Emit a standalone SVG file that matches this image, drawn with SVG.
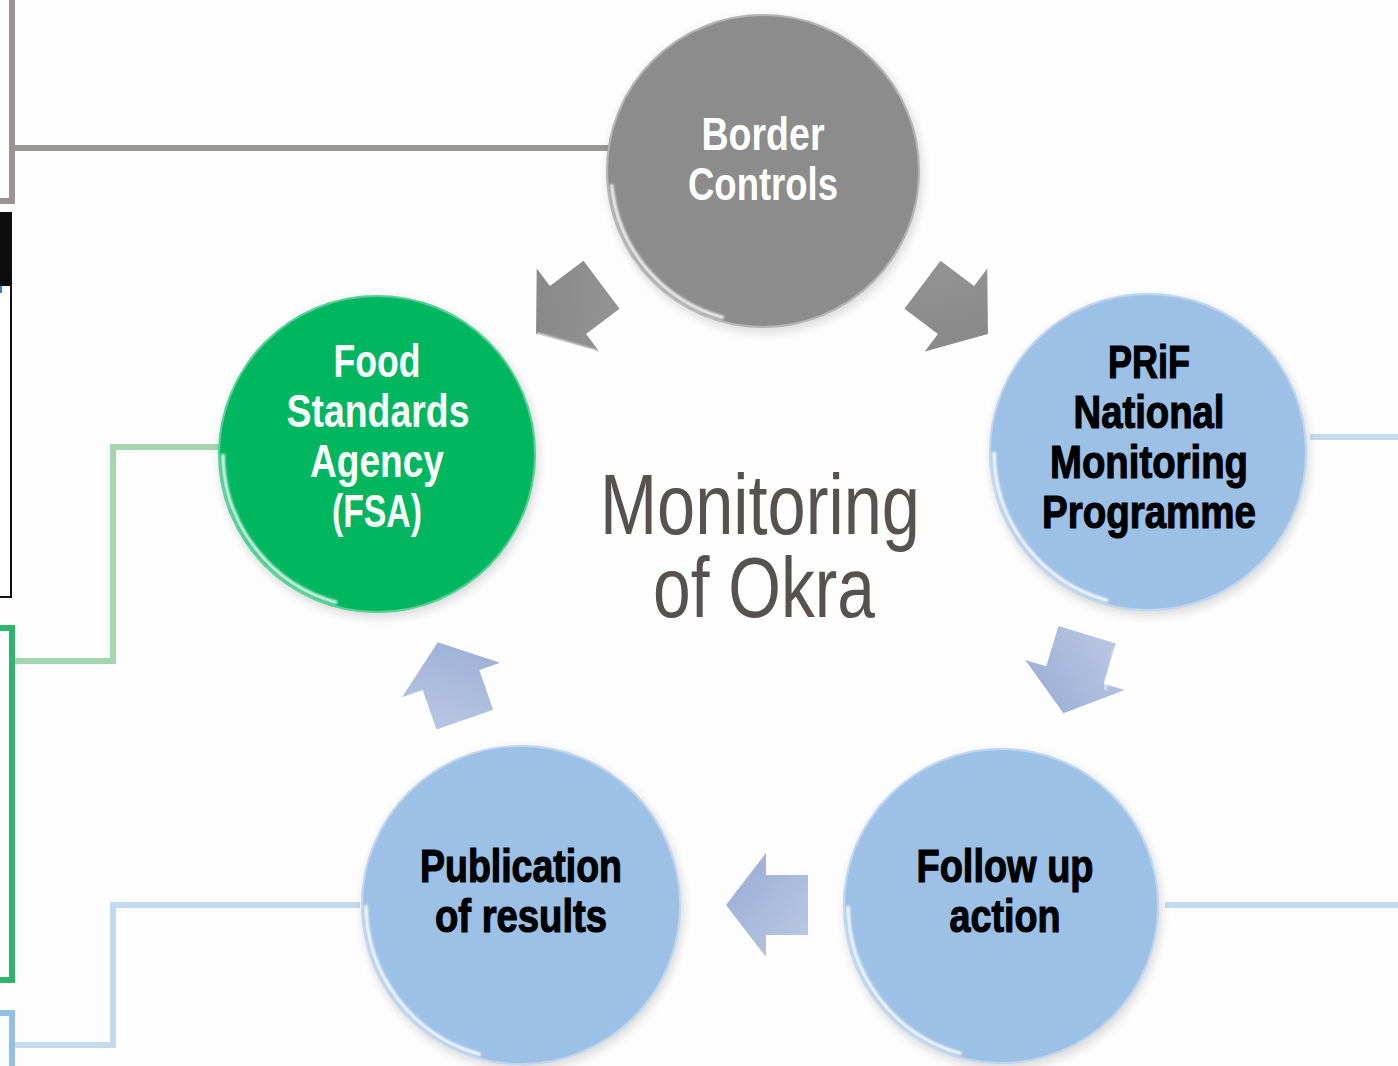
<svg xmlns="http://www.w3.org/2000/svg" width="1398" height="1066" viewBox="0 0 1398 1066">
<defs>
<filter id="sh" x="-20%" y="-20%" width="140%" height="140%"><feGaussianBlur stdDeviation="5"/></filter>
<filter id="soft" x="-10%" y="-10%" width="120%" height="120%"><feGaussianBlur stdDeviation="1.2"/></filter>
<linearGradient id="blueArrow" x1="0" y1="0" x2="1" y2="1"><stop offset="0" stop-color="#bccae4"/><stop offset="1" stop-color="#97abd2"/></linearGradient>
<linearGradient id="grayArrow" x1="0" y1="0" x2="1" y2="1"><stop offset="0" stop-color="#959595"/><stop offset="1" stop-color="#858585"/></linearGradient>
<path id="arr" d="M-42,-30 L0,-30 L0,-52 L40,0 L0,52 L0,30 L-42,30 Z"/>
</defs>
<style>
.ln{fill:none;stroke-width:6;stroke-linejoin:miter;stroke-linecap:butt}
.t{font-family:"Liberation Sans",Arial,sans-serif;font-weight:bold;font-size:47px;text-anchor:middle}
.w{fill:#ffffff}
.k{fill:#000000;stroke:#000000;stroke-width:1.2}
.big{font-family:"Liberation Sans",Arial,sans-serif;font-size:85px;fill:#575250;text-anchor:middle}
.shadow{fill:#000;opacity:0.13}
.hl{fill:none;stroke:#ffffff;stroke-width:3.5;opacity:0.9}
.rim{fill:none;stroke:#ffffff;stroke-width:2;opacity:0.35}
</style>
<rect width="1398" height="1066" fill="#fdfdfd"/>

<g id="connectors">
<path class="ln" stroke="#9c9492" d="M0,201 H12 V0"/>
<path class="ln" stroke="#9c9492" d="M12,148 H610"/>
<rect x="-10" y="213" width="21" height="384" fill="#ffffff" stroke="#111111" stroke-width="2"/>
<rect x="-10" y="213" width="21" height="73" fill="#0d0d0d"/>
<rect x="0" y="286" width="2" height="7" fill="#3a7fd0"/>
<path class="ln" stroke="#a4d6af" d="M222,447 H113 V661 H13"/>
<path class="ln" stroke="#2fb66c" d="M0,628 H12 V980 H0"/>
<path class="ln" stroke="#c5d9ee" d="M360,905 H113 V1045 H13"/>
<path class="ln" stroke="#93bee6" d="M0,1013 H12 V1066"/>
<path class="ln" stroke="#c5d9ee" stroke-width="7" d="M1310,437 H1398"/>
<path class="ln" stroke="#c5d9ee" stroke-width="7" d="M1165,905 H1398"/>
<g id="arrows">
<use href="#arr" fill="url(#grayArrow)" transform="translate(568,310) rotate(143)"/>
<path d="M537,334 L598,352" stroke="#ffffff" stroke-width="3" opacity="0.8" filter="url(#soft)"/>
<use href="#arr" fill="url(#grayArrow)" transform="translate(956,310) rotate(37)"/>
<use href="#arr" fill="url(#blueArrow)" transform="translate(1075,675) rotate(106.8)"/>
<path d="M1115,648 L1105,690" stroke="#ffffff" stroke-width="2.5" opacity="0.7" filter="url(#soft)"/>
<use href="#arr" fill="url(#blueArrow)" transform="translate(766,905) rotate(180)"/>
<use href="#arr" fill="url(#blueArrow)" transform="translate(451,680) rotate(-109.3)"/>
</g>
</g>

<g id="node-border">
<circle class="shadow" cx="765" cy="175" r="158" filter="url(#sh)"/>
<circle cx="763" cy="171" r="157" fill="#8c8c8c"/>
<circle class="rim" cx="763" cy="171" r="156"/>
<circle class="hl" cx="763" cy="171" r="152" pathLength="360" stroke-dasharray="70 290" transform="rotate(105 763 171)" filter="url(#soft)"/>
<text class="t w" x="763" y="150" textLength="123" lengthAdjust="spacingAndGlyphs">Border</text>
<text class="t w" x="763" y="200" textLength="150" lengthAdjust="spacingAndGlyphs">Controls</text>
</g>

<g id="node-fsa">
<circle class="shadow" cx="379" cy="458" r="160" filter="url(#sh)"/>
<circle cx="377" cy="454" r="159" fill="#00b760"/>
<circle class="rim" cx="377" cy="454" r="158"/>
<circle class="hl" cx="377" cy="454" r="154" pathLength="360" stroke-dasharray="75 285" transform="rotate(105 377 454)" filter="url(#soft)"/>
<text class="t w" x="377" y="377" textLength="87" lengthAdjust="spacingAndGlyphs">Food</text>
<text class="t w" x="378" y="427" textLength="183" lengthAdjust="spacingAndGlyphs">Standards</text>
<text class="t w" x="377" y="477" textLength="134" lengthAdjust="spacingAndGlyphs">Agency</text>
<text class="t w" x="377" y="527" textLength="90" lengthAdjust="spacingAndGlyphs">(FSA)</text>
</g>

<g id="node-prif">
<circle class="shadow" cx="1150" cy="456" r="160" filter="url(#sh)"/>
<circle cx="1148" cy="452" r="159" fill="#9dc0e7"/>
<circle class="rim" cx="1148" cy="452" r="158"/>
<circle class="hl" cx="1148" cy="452" r="154" pathLength="360" stroke-dasharray="75 285" transform="rotate(105 1148 452)" filter="url(#soft)"/>
<text class="t k" x="1149" y="378" textLength="82" lengthAdjust="spacingAndGlyphs">PRiF</text>
<text class="t k" x="1149" y="428" textLength="151" lengthAdjust="spacingAndGlyphs">National</text>
<text class="t k" x="1149" y="478" textLength="198" lengthAdjust="spacingAndGlyphs">Monitoring</text>
<text class="t k" x="1149" y="528" textLength="214" lengthAdjust="spacingAndGlyphs">Programme</text>
</g>

<g id="node-publication">
<circle class="shadow" cx="523" cy="909" r="161" filter="url(#sh)"/>
<circle cx="521" cy="905" r="160" fill="#9dc0e7"/>
<circle class="rim" cx="521" cy="905" r="159"/>
<circle class="hl" cx="521" cy="905" r="155" pathLength="360" stroke-dasharray="75 285" transform="rotate(105 521 905)" filter="url(#soft)"/>
<text class="t k" x="521" y="882" textLength="202" lengthAdjust="spacingAndGlyphs">Publication</text>
<text class="t k" x="521" y="932" textLength="172" lengthAdjust="spacingAndGlyphs">of results</text>
</g>

<g id="node-followup">
<circle class="shadow" cx="1003" cy="910" r="159" filter="url(#sh)"/>
<circle cx="1001" cy="906" r="158" fill="#9dc0e7"/>
<circle class="rim" cx="1001" cy="906" r="157"/>
<circle class="hl" cx="1001" cy="906" r="153" pathLength="360" stroke-dasharray="75 285" transform="rotate(105 1001 906)" filter="url(#soft)"/>
<text class="t k" x="1005" y="882" textLength="177" lengthAdjust="spacingAndGlyphs">Follow up</text>
<text class="t k" x="1005" y="932" textLength="111" lengthAdjust="spacingAndGlyphs">action</text>
</g>

<g id="title">
<text class="big" x="760" y="534" textLength="320" lengthAdjust="spacingAndGlyphs">Monitoring</text>
<text class="big" x="764" y="617" textLength="222" lengthAdjust="spacingAndGlyphs">of Okra</text>
</g>
</svg>
